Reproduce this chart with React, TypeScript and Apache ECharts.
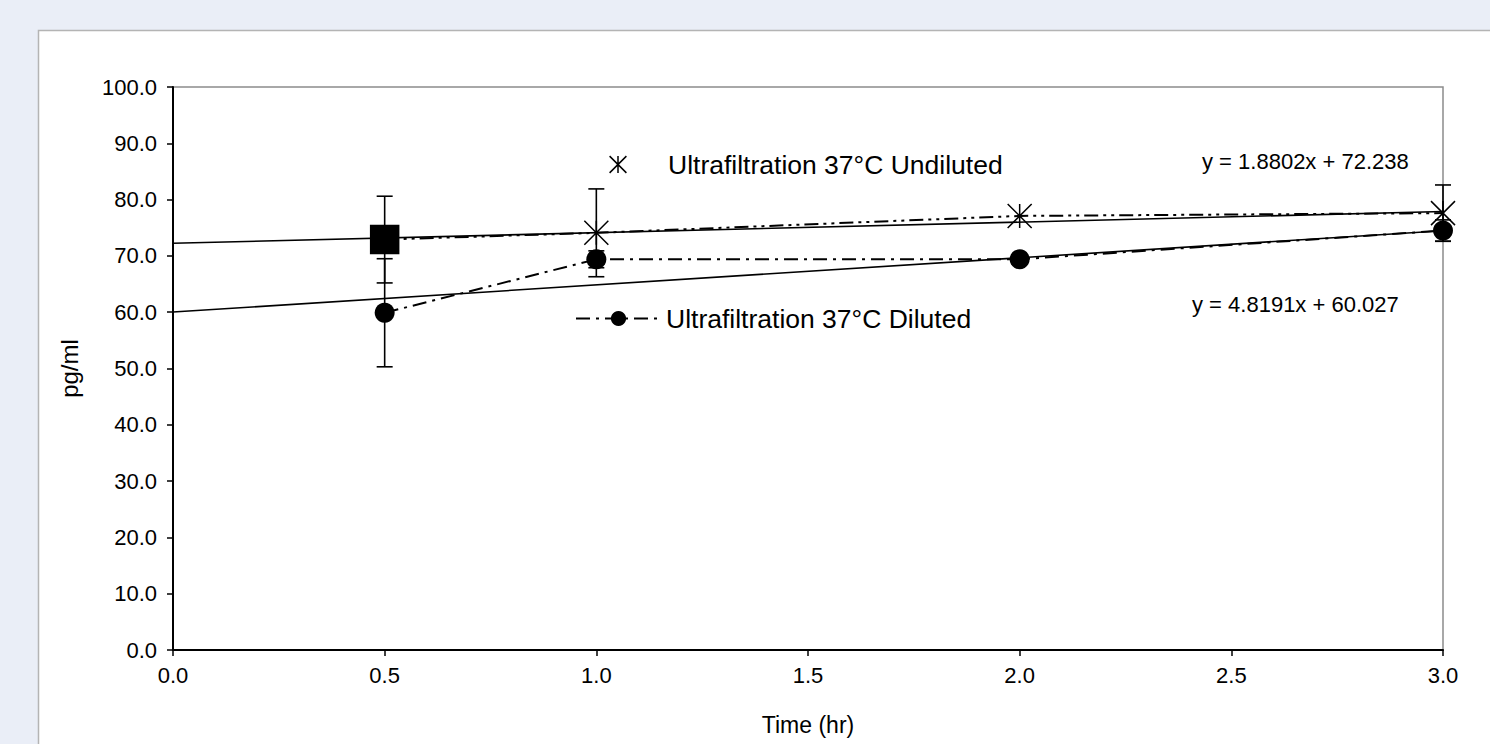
import React, { useEffect, useRef } from "react";
import * as echarts from "echarts";

const timeHr = [0.5, 1, 2, 3];
const undiluted = [72.9, 74.1, 77.1, 77.6];
const undilutedErr = [7.7, 7.8, 0, 5.0];
const diluted = [59.9, 69.4, 69.4, 74.5];
const dilutedErr = [9.6, 1.5, 0, 1.9];
const trendUndiluted = [[0, 72.24], [3, 77.88]];
const trendDiluted = [[0, 60.03], [3, 74.48]];
const eqUndiluted = "y = 1.8802x + 72.238";
const eqDiluted = "y = 4.8191x + 60.027";
const nameUndiluted = "Ultrafiltration 37°C Undiluted";
const nameDiluted = "Ultrafiltration 37°C Diluted";

const FONT = '"Liberation Sans", Arial, sans-serif';
const STAR = "path://M0,0L20,20M20,0L0,20M10,0L10,20";

export default function App() {
  const ref = useRef<HTMLDivElement>(null);
  useEffect(() => {
    if (!ref.current) return;
    const chart = echarts.init(ref.current, null, { renderer: "svg" });

    const errRender = (params: any, api: any) => {
      const x = api.value(0);
      const y = api.value(1);
      const e = api.value(2);
      if (!e) return { type: "group", children: [] };
      const t = api.coord([x, y + e]);
      const b = api.coord([x, y - e]);
      const hw = 8;
      const st = { stroke: "#000", lineWidth: 1.6 };
      return {
        type: "group",
        children: [
          { type: "line", shape: { x1: t[0], y1: t[1], x2: b[0], y2: b[1] }, style: st },
          { type: "line", shape: { x1: t[0] - hw, y1: t[1], x2: t[0] + hw, y2: t[1] }, style: st },
          { type: "line", shape: { x1: b[0] - hw, y1: b[1], x2: b[0] + hw, y2: b[1] }, style: st },
        ],
      };
    };

    const undData = timeHr.map((x, i) =>
      i === 0
        ? { value: [x, undiluted[i]], symbol: "rect", symbolSize: 28, itemStyle: { color: "#000" } }
        : { value: [x, undiluted[i]] }
    );

    chart.setOption({
      animation: false,
      backgroundColor: "#EAEEF7",
      graphic: {
        elements: [
          {
            type: "rect",
            z: -10,
            shape: { x: 38.5, y: 30.5, width: 1500, height: 800 },
            style: { fill: "#fff", stroke: "#b4b4b4", lineWidth: 1.5 },
          },
          {
            type: "text",
            x: 1202,
            y: 161,
            z: 10,
            style: { text: eqUndiluted, font: `22px ${FONT}`, fill: "#000", verticalAlign: "middle" },
          },
          {
            type: "text",
            x: 1192,
            y: 304,
            z: 10,
            style: { text: eqDiluted, font: `22px ${FONT}`, fill: "#000", verticalAlign: "middle" },
          },
        ],
      },
      grid: {
        left: 173,
        right: 47,
        top: 87,
        bottom: 94,
        show: true,
        backgroundColor: "#fff",
        borderColor: "#8c8c8c",
        borderWidth: 1.5,
      },
      legend: [
        {
          data: [{ name: nameUndiluted }],
          left: 567,
          top: 146,
          itemWidth: 90,
          itemHeight: 21,
          lineStyle: { opacity: 0 },
          itemStyle: { borderWidth: 1.5 },
          textStyle: { fontSize: 26.5, fontFamily: FONT, color: "#000" },
          selectedMode: false,
        },
        {
          data: [{ name: nameDiluted }],
          left: 570,
          top: 300,
          itemWidth: 85,
          itemHeight: 19,
          textStyle: { fontSize: 26.5, fontFamily: FONT, color: "#000" },
          selectedMode: false,
        },
      ],
      xAxis: {
        type: "value",
        min: 0,
        max: 3,
        interval: 0.5,
        name: "Time (hr)",
        nameLocation: "middle",
        nameGap: 63,
        nameTextStyle: { fontSize: 23, fontFamily: FONT, color: "#000" },
        axisLine: { lineStyle: { color: "#000", width: 2 } },
        axisTick: { inside: false, length: 6, lineStyle: { color: "#000", width: 1.5 } },
        axisLabel: {
          fontSize: 22,
          fontFamily: FONT,
          color: "#000",
          margin: 14,
          formatter: (v: number) => v.toFixed(1),
        },
        splitLine: { show: false },
      },
      yAxis: {
        type: "value",
        min: 0,
        max: 100,
        interval: 10,
        name: "pg/ml",
        nameLocation: "middle",
        nameGap: 92,
        nameTextStyle: { fontSize: 24, fontFamily: FONT, color: "#000" },
        axisLine: { show: true, lineStyle: { color: "#000", width: 2 } },
        axisTick: { show: true, inside: false, length: 6, lineStyle: { color: "#000", width: 1.5 } },
        axisLabel: {
          fontSize: 22,
          fontFamily: FONT,
          color: "#000",
          margin: 16,
          formatter: (v: number) => v.toFixed(1),
        },
        splitLine: { show: false },
      },
      series: [
        {
          type: "line",
          name: "trendUnd",
          data: trendUndiluted,
          symbol: "none",
          z: 2,
          lineStyle: { color: "#000", width: 1.6, type: "solid" },
          silent: true,
        },
        {
          type: "line",
          name: "trendDil",
          data: trendDiluted,
          symbol: "none",
          z: 2,
          lineStyle: { color: "#000", width: 1.6, type: "solid" },
          silent: true,
        },
        {
          type: "custom",
          name: "errUnd",
          z: 3,
          renderItem: errRender,
          data: timeHr.map((x, i) => [x, undiluted[i], undilutedErr[i]]),
          silent: true,
        },
        {
          type: "custom",
          name: "errDil",
          z: 3,
          renderItem: errRender,
          data: timeHr.map((x, i) => [x, diluted[i], dilutedErr[i]]),
          silent: true,
        },
        {
          type: "line",
          name: nameUndiluted,
          data: undData,
          symbol: STAR,
          symbolSize: 24,
          symbolKeepAspect: true,
          z: 5,
          itemStyle: { color: "#000", borderColor: "#000", borderWidth: 1.5 },
          lineStyle: { color: "#000", width: 2, type: [14, 5, 3, 5, 3, 5] },
        },
        {
          type: "line",
          name: nameDiluted,
          data: timeHr.map((x, i) => [x, diluted[i]]),
          symbol: "circle",
          symbolSize: 20,
          z: 5,
          itemStyle: { color: "#000", borderWidth: 0 },
          lineStyle: { color: "#000", width: 2, type: [14, 6, 3, 6] },
        },
      ],
    });
    return () => chart.dispose();
  }, []);
  return (
    <div
      ref={ref}
      style={{ position: "fixed", left: 0, top: 0, width: 1490, height: 744 }}
    />
  );
}
